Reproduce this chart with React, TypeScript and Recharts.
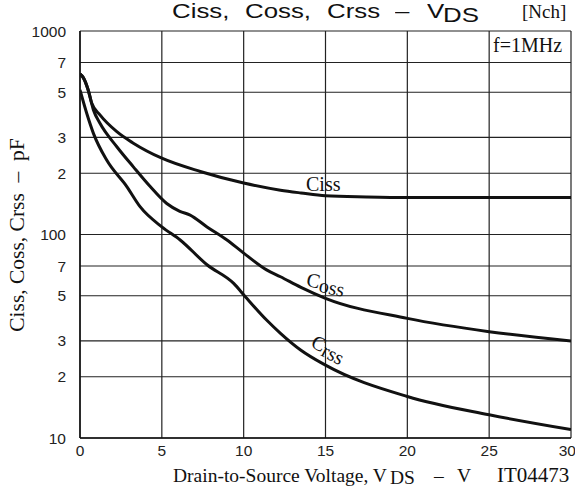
import { LineChart, Line, XAxis, YAxis, CartesianGrid } from 'recharts'

// capacitance vs drain-to-source voltage
const cissV = [0, 0.2, 0.5, 0.72, 1.22, 2.25, 3.26, 5, 7.35, 10, 12.25, 13.5, 15, 17.5, 20, 25, 30]
const cissC = [615, 590, 513, 441, 387, 320, 281, 237, 204, 179, 165, 160, 155, 153, 152, 152, 152]

const cossV = [0, 0.2, 0.5, 0.82, 1.22, 2.25, 3.26, 4.29, 5.3, 6.1, 6.7, 7.76, 8.98, 10, 11.4, 12.25, 13.5, 15, 20, 25, 30]
const cossC = [615, 590, 513, 409, 352, 270, 215, 172, 142, 130, 125, 109, 94, 81, 67, 62, 55, 48.6, 38.7, 33.3, 30]

const crssV = [0, 0.41, 0.82, 1.63, 2.86, 3.67, 5, 6.12, 7.76, 9.39, 10.1, 11.4, 12.25, 13.5, 15, 20, 25, 30]
const crssC = [513, 394, 314, 232, 172, 137, 109, 94, 71, 57.5, 49.5, 38, 32.7, 27, 22.8, 16, 13, 11]

const xTicks = [0, 5, 10, 15, 20, 25, 30]
const yTicks = [10, 20, 30, 50, 70, 100, 200, 300, 500, 700, 1000]
const yTickLabels = ['10', '2', '3', '5', '7', '100', '2', '3', '5', '7', '1000']

const toRows = (vs: number[], cs: number[]) => vs.map((v, i) => ({ v, c: cs[i] }))

const serif = '"Liberation Serif", "Times New Roman", serif'
const sans = '"Liberation Sans", Arial, sans-serif'

const abs = (left: number, top: number, font: string, size: number, extra: object = {}) => ({
  position: 'absolute' as const,
  left,
  top,
  fontFamily: font,
  fontSize: size,
  lineHeight: 1,
  whiteSpace: 'nowrap' as const,
  ...extra,
})

const titleWord = (left: number, top: number) =>
  abs(left, top, sans, 21, { transform: 'scaleX(1.23)', transformOrigin: 'left top' })

export default function App() {
  const lineProps = {
    type: 'monotone' as const,
    dataKey: 'c',
    stroke: '#111',
    strokeWidth: 3,
    dot: false,
    isAnimationActive: false,
  }

  return (
    <div style={{ position: 'relative', width: 575, height: 488, background: '#fff', color: '#111' }}>
      <style>{'body{margin:0}'}</style>
      <LineChart width={575} height={488} margin={{ top: 31, right: 4, left: 0, bottom: 20 }}>
        <CartesianGrid stroke="#222" strokeWidth={1.2} />
        <XAxis
          type="number"
          dataKey="v"
          domain={[0, 30]}
          ticks={xTicks}
          allowDataOverflow
          height={30}
          tickLine={false}
          axisLine={{ stroke: '#111', strokeWidth: 1.5 }}
          tick={{ fontSize: 15.5, fill: '#222', fontFamily: sans }}
          tickMargin={1}
        />
        <YAxis
          type="number"
          scale="log"
          domain={[10, 1000]}
          ticks={yTicks}
          allowDataOverflow
          width={80}
          tickLine={false}
          axisLine={{ stroke: '#111', strokeWidth: 1.5 }}
          tick={{ fontSize: 15.5, fill: '#222', fontFamily: sans }}
          tickFormatter={(val: number) => yTickLabels[yTicks.indexOf(val)] ?? ''}
          tickMargin={8}
        />
        <Line data={toRows(cissV, cissC)} {...lineProps} />
        <Line data={toRows(cossV, cossC)} {...lineProps} />
        <Line data={toRows(crssV, crssC)} {...lineProps} />
      </LineChart>

      {/* title */}
      <div style={titleWord(172, 0)}>Ciss,</div>
      <div style={titleWord(245, 0)}>Coss,</div>
      <div style={titleWord(327, 0)}>Crss</div>
      <div style={titleWord(395, 0)}>–</div>
      <div style={titleWord(427, 0)}>V</div>
      <div style={titleWord(443, 4)}>DS</div>
      <div style={abs(522, 2, serif, 19)}>[Nch]</div>
      <div style={abs(493, 35, serif, 20)}>f=1MHz</div>

      {/* curve labels */}
      <div style={abs(306, 174, serif, 20)}>Ciss</div>
      <div style={abs(307, 269, serif, 20, { transform: 'rotate(12deg)', transformOrigin: 'left center' })}>
        C<span style={{ position: 'relative', top: 3 }}>oss</span>
      </div>
      <div style={abs(313, 330, serif, 20, { transform: 'rotate(28deg)', transformOrigin: 'left center' })}>
        C<span style={{ position: 'relative', top: 3 }}>rss</span>
      </div>

      {/* axis titles */}
      <div style={abs(173, 466, serif, 19.5)}>Drain-to-Source Voltage, V</div>
      <div style={abs(390, 468, serif, 19.5)}>DS</div>
      <div style={abs(434, 466, serif, 19.5)}>–</div>
      <div style={abs(457, 466, serif, 19.5)}>V</div>
      <div style={abs(497, 465, serif, 21)}>IT04473</div>
      <div
        style={abs(18, 235, serif, 21.5, { transform: 'translate(-50%, -50%) rotate(-90deg)' })}
      >
        Ciss, Coss, Crss&nbsp; –&nbsp; pF
      </div>
    </div>
  )
}
